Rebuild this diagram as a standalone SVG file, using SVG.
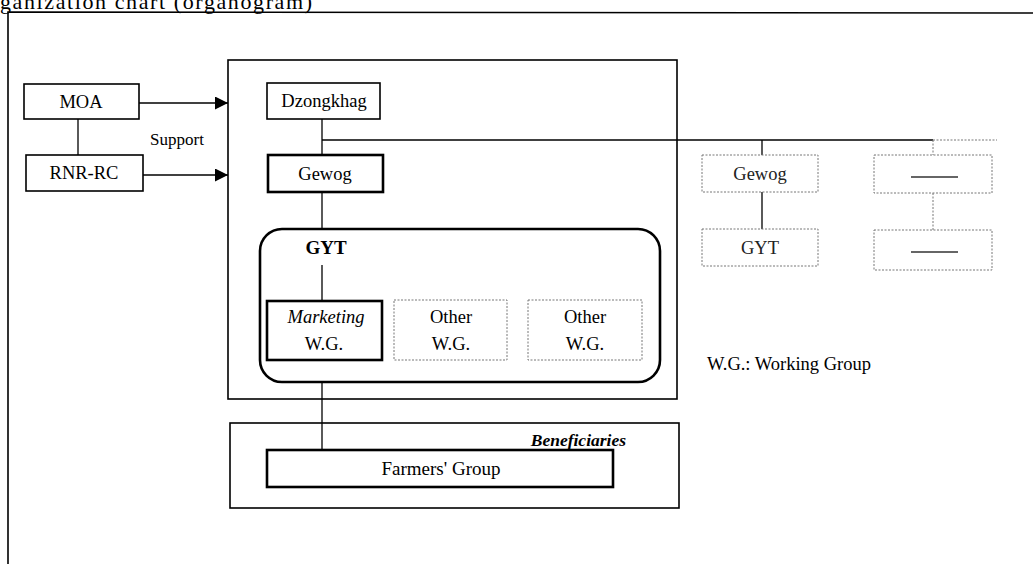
<svg xmlns="http://www.w3.org/2000/svg" width="1033" height="564" viewBox="0 0 1033 564">
<defs>
<marker id="arr" viewBox="0 0 10 10" refX="10" refY="5" markerWidth="15" markerHeight="13" markerUnits="userSpaceOnUse" orient="auto">
<path d="M0,0 L10,5 L0,10 Z" fill="#000"/>
</marker>
<style>
text{font-family:"Liberation Serif","Times New Roman",serif;font-size:18.5px;fill:#000;text-anchor:middle}
.box{fill:#fff;stroke:#000;stroke-width:1.6}
.bold{fill:#fff;stroke:#000;stroke-width:2.6}
.dot{fill:none;stroke:#777;stroke-width:1;stroke-dasharray:2 1.5}
.ln{stroke:#000;stroke-width:1.3;fill:none}
.frame{fill:none;stroke:#000;stroke-width:1.6}
</style>
</defs>
<rect width="1033" height="564" fill="#fff"/>
<text x="0" y="9" style="text-anchor:start;font-size:22px" textLength="312">ganization chart (organogram)</text>
<path class="frame" d="M8,564 L8,12 L1033,13"/>
<g id="dzongkhag-area"><rect class="frame" x="228" y="60" width="449" height="339"/></g>
<g id="beneficiaries-area"><rect class="frame" x="230" y="423" width="449" height="85"/>
<text x="626" y="446" style="text-anchor:end;font-weight:bold;font-style:italic;font-size:17.5px">Beneficiaries</text></g>
<g id="gyt-area"><rect x="260" y="229" width="400" height="153" rx="22" fill="none" stroke="#000" stroke-width="2.6"/>
<text x="326" y="254" style="font-weight:bold;font-size:19px">GYT</text></g>
<g id="connectors">
<line class="ln" x1="78" y1="119" x2="78" y2="155"/>
<line class="ln" x1="139" y1="103" x2="228" y2="103" marker-end="url(#arr)"/>
<line class="ln" x1="143" y1="175" x2="228" y2="175" marker-end="url(#arr)"/>
<line class="ln" x1="322" y1="119" x2="322" y2="155"/>
<line class="ln" x1="322" y1="140" x2="933" y2="140" stroke-width="1.8"/>
<line class="dot" x1="933" y1="140" x2="997" y2="140"/>
<line class="ln" x1="762" y1="140" x2="762" y2="155"/>
<line class="ln" x1="762" y1="192" x2="762" y2="229" stroke="#555"/>
<line class="dot" x1="933" y1="140" x2="933" y2="155"/>
<line class="dot" x1="933" y1="193" x2="933" y2="230"/>
<line class="ln" x1="322" y1="192" x2="322" y2="229"/>
<line class="ln" x1="322" y1="265" x2="322" y2="301"/>
<line class="ln" x1="322" y1="382" x2="322" y2="450"/>
</g>
<g id="moa"><rect class="box" x="24" y="84" width="115" height="35"/><text x="81" y="108">MOA</text></g>
<g id="rnr-rc"><rect class="box" x="26" y="155" width="117" height="36"/><text x="84" y="179">RNR-RC</text></g>
<text x="177" y="145" style="font-size:17px">Support</text>
<g id="dzongkhag"><rect class="box" x="267" y="83" width="113" height="36"/><text x="324" y="107">Dzongkhag</text></g>
<g id="gewog"><rect class="bold" x="268" y="155" width="115" height="37"/><text x="325" y="180">Gewog</text></g>
<g id="marketing-wg"><rect class="bold" x="267" y="301" width="115" height="59"/><text x="326" y="323" style="font-style:italic">Marketing</text><text x="324" y="350">W.G.</text></g>
<g id="other-wg-1"><rect class="dot" x="394" y="300" width="113" height="60"/><text x="451" y="323">Other</text><text x="451" y="350">W.G.</text></g>
<g id="other-wg-2"><rect class="dot" x="528" y="300" width="114" height="60"/><text x="585" y="323">Other</text><text x="585" y="350">W.G.</text></g>
<g id="farmers-group"><rect class="bold" x="267" y="450" width="346" height="37"/><text x="441" y="475" style="font-size:19px">Farmers' Group</text></g>
<g id="gewog-2"><rect class="dot" x="702" y="155" width="116" height="37"/><text x="760" y="180" style="fill:#222">Gewog</text></g>
<g id="gyt-2"><rect class="dot" x="702" y="229" width="116" height="37"/><text x="760" y="254" style="fill:#222">GYT</text></g>
<g id="other-1"><rect class="dot" x="874" y="155" width="118" height="38"/><line x1="911" y1="177" x2="958" y2="177" stroke="#333" stroke-width="1.4"/></g>
<g id="other-2"><rect class="dot" x="874" y="230" width="118" height="40"/><line x1="911" y1="252" x2="958" y2="252" stroke="#333" stroke-width="1.4"/></g>
<text x="707" y="370" style="text-anchor:start">W.G.: Working Group</text>
</svg>
